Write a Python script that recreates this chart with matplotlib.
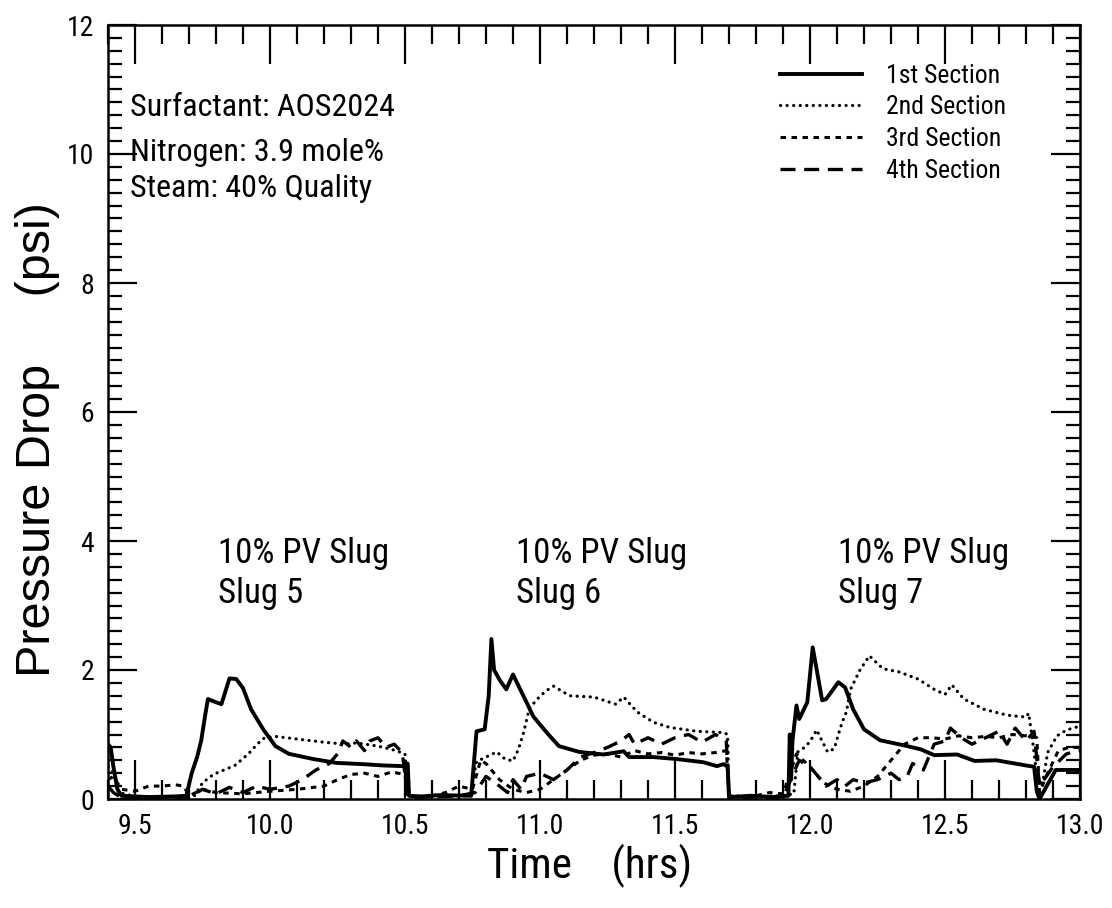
import matplotlib
matplotlib.use("Agg")
import matplotlib.pyplot as plt
from matplotlib import font_manager
from matplotlib.ticker import MultipleLocator

names = {f.name for f in font_manager.fontManager.ttflist}
narrow = 'DejaVu Sans'
for cand in ['Liberation Sans Narrow', 'Roboto Condensed', 'Open Sans Condensed', 'Liberation Sans']:
    if cand in names:
        narrow = cand
        break
wide = 'Liberation Sans' if 'Liberation Sans' in names else 'DejaVu Sans'

# ---------------- data ----------------
t1 = [9.40, 9.41, 9.42, 9.435, 9.45, 9.55, 9.65, 9.69,
      9.71, 9.73, 9.745, 9.76, 9.77, 9.80, 9.82, 9.85,
      9.875, 9.90, 9.93, 9.975, 10.02, 10.07, 10.16, 10.245,
      10.345, 10.42, 10.49, 10.51, 10.515, 10.56, 10.63, 10.745,
      10.765, 10.795, 10.81, 10.82, 10.83, 10.85, 10.875, 10.90,
      10.95, 10.975, 11.025, 11.07, 11.145, 11.235, 11.31, 11.33,
      11.42, 11.505, 11.605, 11.655, 11.68, 11.695, 11.70, 11.78,
      11.86, 11.92, 11.925, 11.93, 11.935, 11.95, 11.96, 11.99,
      12.01, 12.045, 12.06, 12.105, 12.13, 12.16, 12.20, 12.26,
      12.35, 12.41, 12.46, 12.545, 12.61, 12.69, 12.80, 12.83,
      12.84, 12.85, 12.87, 12.89, 12.91, 12.95, 13.0]
y1 = [0.85, 0.80, 0.50, 0.15, 0.05, 0.03, 0.04, 0.05,
      0.40, 0.65, 0.90, 1.30, 1.55, 1.50, 1.47, 1.87,
      1.86, 1.72, 1.39, 1.08, 0.82, 0.70, 0.62, 0.56,
      0.54, 0.52, 0.51, 0.55, 0.05, 0.04, 0.06, 0.05,
      1.05, 1.08, 1.60, 2.48, 2.00, 1.85, 1.70, 1.93,
      1.50, 1.28, 1.03, 0.82, 0.73, 0.69, 0.74, 0.65,
      0.65, 0.62, 0.57, 0.51, 0.54, 0.50, 0.03, 0.05,
      0.03, 0.05, 1.00, 0.30, 0.90, 1.45, 1.24, 1.50,
      2.35, 1.53, 1.55, 1.81, 1.73, 1.39, 1.08, 0.91,
      0.83, 0.77, 0.68, 0.69, 0.59, 0.60, 0.52, 0.50,
      0.12, 0.00, 0.15, 0.30, 0.45, 0.45, 0.45]

t2 = [9.40, 9.42, 9.44, 9.50, 9.60, 9.72, 9.75, 9.79,
      9.83, 9.87, 9.92, 9.955, 9.98, 10.02, 10.10, 10.20,
      10.28, 10.32, 10.40, 10.45, 10.50, 10.51, 10.53, 10.62,
      10.74, 10.765, 10.80, 10.84, 10.87, 10.90, 10.92, 10.94,
      10.96, 10.99, 11.02, 11.05, 11.11, 11.20, 11.28, 11.31,
      11.36, 11.42, 11.48, 11.58, 11.68, 11.695, 11.70, 11.80,
      11.90, 11.94, 11.955, 11.98, 12.00, 12.025, 12.04, 12.065,
      12.09, 12.105, 12.12, 12.135, 12.15, 12.185, 12.22, 12.27,
      12.33, 12.40, 12.46, 12.50, 12.525, 12.57, 12.645, 12.73,
      12.80, 12.81, 12.825, 12.84, 12.86, 12.88, 12.915, 12.95,
      13.0]
y2 = [0.50, 0.40, 0.10, 0.04, 0.03, 0.05, 0.25, 0.38,
      0.45, 0.52, 0.70, 0.86, 0.95, 0.97, 0.93, 0.88,
      0.85, 0.87, 0.82, 0.77, 0.70, 0.05, 0.03, 0.04,
      0.05, 0.58, 0.65, 0.73, 0.62, 0.59, 0.77, 1.04,
      1.40, 1.55, 1.67, 1.75, 1.60, 1.58, 1.47, 1.58,
      1.35, 1.19, 1.11, 1.05, 1.03, 1.00, 0.05, 0.04,
      0.05, 0.08, 0.73, 0.80, 0.89, 1.07, 0.94, 0.73,
      0.78, 1.00, 1.20, 1.35, 1.70, 2.00, 2.22, 2.02,
      1.97, 1.86, 1.70, 1.62, 1.77, 1.55, 1.39, 1.30,
      1.27, 1.33, 0.88, 0.37, 0.20, 0.72, 0.98, 1.07,
      1.13]

t3 = [9.40, 9.42, 9.45, 9.50, 9.55, 9.60, 9.65, 9.68,
      9.70, 9.75, 9.80, 9.90, 10.00, 10.10, 10.20, 10.25,
      10.30, 10.35, 10.40, 10.45, 10.50, 10.51, 10.55, 10.60,
      10.65, 10.70, 10.75, 10.78, 10.80, 10.85, 10.90, 10.95,
      11.00, 11.05, 11.10, 11.15, 11.20, 11.25, 11.30, 11.35,
      11.40, 11.45, 11.50, 11.55, 11.60, 11.65, 11.69, 11.70,
      11.75, 11.80, 11.85, 11.90, 11.95, 12.00, 12.05, 12.10,
      12.15, 12.20, 12.25, 12.30, 12.35, 12.40, 12.45, 12.50,
      12.55, 12.60, 12.65, 12.70, 12.75, 12.80, 12.84, 12.85,
      12.88, 12.92, 12.96, 13.0]
y3 = [0.30, 0.35, 0.15, 0.12, 0.20, 0.20, 0.22, 0.20,
      0.05, 0.15, 0.10, 0.08, 0.12, 0.15, 0.20, 0.30,
      0.38, 0.40, 0.35, 0.42, 0.38, 0.05, 0.03, 0.05,
      0.10, 0.20, 0.15, 0.60, 0.55, 0.30, 0.15, 0.10,
      0.15, 0.30, 0.45, 0.60, 0.68, 0.70, 0.65, 0.75,
      0.70, 0.72, 0.68, 0.72, 0.70, 0.72, 0.75, 0.05,
      0.03, 0.05, 0.10, 0.08, 0.70, 0.50, 0.25, 0.15,
      0.12, 0.20, 0.35, 0.60, 0.85, 0.95, 0.95, 0.93,
      0.98, 0.95, 0.97, 0.95, 1.00, 0.98, 0.95, 0.10,
      0.40, 0.75, 0.80, 0.80]

t4 = [9.40, 9.42, 9.45, 9.60, 9.70, 9.75, 9.80, 9.85,
      9.90, 9.95, 10.00, 10.07, 10.12, 10.17, 10.22, 10.25,
      10.27, 10.30, 10.32, 10.35, 10.37, 10.40, 10.43, 10.46,
      10.49, 10.51, 10.60, 10.70, 10.76, 10.80, 10.85, 10.88,
      10.90, 10.93, 10.95, 11.00, 11.05, 11.10, 11.15, 11.20,
      11.25, 11.30, 11.33, 11.35, 11.40, 11.45, 11.50, 11.55,
      11.60, 11.65, 11.69, 11.70, 11.80, 11.90, 11.96, 12.00,
      12.03, 12.06, 12.10, 12.13, 12.16, 12.20, 12.25, 12.30,
      12.33, 12.36, 12.38, 12.42, 12.46, 12.50, 12.52, 12.56,
      12.60, 12.65, 12.70, 12.73, 12.76, 12.80, 12.83, 12.85,
      12.90, 12.95, 13.0]
y4 = [0.20, 0.10, 0.02, 0.02, 0.03, 0.15, 0.08, 0.18,
      0.10, 0.20, 0.15, 0.20, 0.30, 0.45, 0.55, 0.70,
      0.90, 0.80, 0.90, 0.75, 0.90, 0.95, 0.80, 0.85,
      0.72, 0.02, 0.03, 0.05, 0.10, 0.35, 0.20, 0.10,
      0.30, 0.15, 0.35, 0.40, 0.30, 0.45, 0.65, 0.72,
      0.80, 0.90, 1.00, 0.85, 0.95, 0.85, 0.95, 1.00,
      0.88, 1.00, 0.90, 0.02, 0.03, 0.03, 0.60, 0.50,
      0.35, 0.20, 0.30, 0.20, 0.30, 0.25, 0.30, 0.40,
      0.30, 0.35, 0.55, 0.45, 0.85, 0.90, 1.10, 0.95,
      0.85, 0.95, 1.05, 0.85, 1.10, 0.90, 1.05, 0.20,
      0.50, 0.70, 0.75]

series_labels = ['1st Section', '2nd Section', '3rd Section', '4th Section']
xticks = [9.5, 10.0, 10.5, 11.0, 11.5, 12.0, 12.5, 13.0]
yticks = [0, 2, 4, 6, 8, 10, 12]
info_lines = ['Surfactant: AOS2024', 'Nitrogen: 3.9 mole%', 'Steam: 40% Quality']
info_y = [10.72, 10.02, 9.47]
slug_names = ['Slug 5', 'Slug 6', 'Slug 7']
slug_x = [9.807, 10.911, 12.104]

# ---------------- figure ----------------
fig = plt.figure(figsize=(11.12, 9.08), dpi=100)
ax = fig.add_axes([108/1112, 1 - 799/908, 972/1112, 774/908])

ax.plot(t1, y1, color='black', lw=2.8, ls='-', label=series_labels[0], solid_joinstyle='round')
ax.plot(t2, y2, color='black', lw=2.3, ls=(0, (0.05, 2.0)), label=series_labels[1],
        dash_capstyle='round')
ax.plot(t3, y3, color='black', lw=2.2, ls=(0, (1.8, 1.8)), label=series_labels[2])
ax.plot(t4, y4, color='black', lw=2.4, ls=(0, (4.5, 2.6)), label=series_labels[3])

ax.set_xlim(9.4, 13.0)
ax.set_ylim(0, 12)
ax.set_xticks(xticks)
ax.set_xticklabels([f'{v:.1f}' for v in xticks])
ax.set_yticks(yticks)
ax.set_yticklabels([str(v) for v in yticks])
ax.xaxis.set_minor_locator(MultipleLocator(0.1))
ax.yaxis.set_minor_locator(MultipleLocator(0.2))

ax.tick_params(axis='x', which='major', direction='in', length=28, width=1.6,
               top=True, bottom=True, pad=10, labelsize=20)
ax.tick_params(axis='x', which='minor', direction='in', length=14, width=1.6,
               top=True, bottom=True)
ax.tick_params(axis='y', which='major', direction='in', length=21, width=1.6,
               left=True, right=True, pad=10, labelsize=20)
ax.tick_params(axis='y', which='minor', direction='in', length=10, width=1.6,
               left=True, right=True)
for lab in ax.get_xticklabels() + ax.get_yticklabels():
    lab.set_fontfamily(narrow)
for sp in ax.spines.values():
    sp.set_linewidth(1.8)

# y label and x label
fig.text(38/1112, 1 - 440/908, 'Pressure Drop     (psi)', rotation=90, ha='center', va='center',
         fontsize=35, family=wide)
fig.text(590/1112, 1 - 866/908, 'Time    (hrs)', ha='center', va='center',
         fontsize=31, family=narrow)

# info text
for s, yy in zip(info_lines, info_y):
    ax.text(9.48, yy, s, fontsize=23, family=narrow, ha='left', va='center')

# slug annotations
for sx, sn in zip(slug_x, slug_names):
    ax.text(sx, 3.81, '10% PV Slug', fontsize=25, family=narrow, ha='left', va='center')
    ax.text(sx, 3.19, sn, fontsize=25, family=narrow, ha='left', va='center')

leg = ax.legend(loc='upper left', bbox_to_anchor=(0.691, 0.950), frameon=False,
                prop={'family': narrow, 'size': 18.5}, handlelength=3.2, handletextpad=0.95,
                labelspacing=0.3, borderpad=0, borderaxespad=0)

fig.savefig('out.png', dpi=100)
